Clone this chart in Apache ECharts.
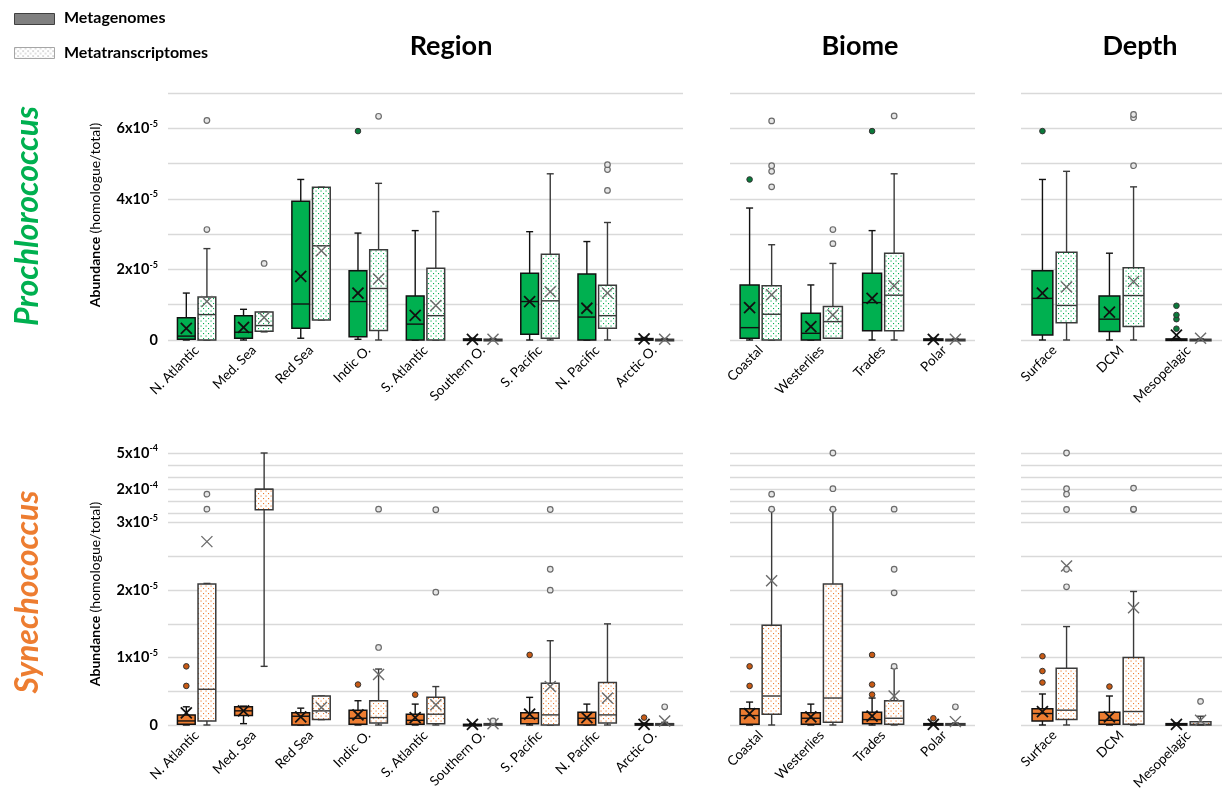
<!DOCTYPE html>
<html><head><meta charset="utf-8">
<script src="https://cdn.jsdelivr.net/npm/echarts@6/dist/echarts.min.js"></script>
<style>html,body{margin:0;padding:0;background:#fff}#c{width:1225px;height:802px}</style>
</head><body><div id="c"></div>
<script>
// ---------- categories ----------
const regionCats = ['N. Atlantic','Med. Sea','Red Sea','Indic O.','S. Atlantic','Southern O.','S. Pacific','N. Pacific','Arctic O.'];
const biomeCats = ['Coastal','Westerlies','Trades','Polar'];
const depthCats = ['Surface','DCM','Mesopelagic'];

// All values in units of 1e-5 (homologue/total). Box = [min, Q1, median, Q3, max, mean]
// ---------- Prochlorococcus ----------
const proRegionGen = [[0,0.02,0.11,0.63,1.33,0.33],[0,0.05,0.22,0.69,0.87,0.36],[0.05,0.33,1.02,3.93,4.55,1.8],[0.02,0.09,1.09,1.96,3.03,1.33],[0,0,0.45,1.25,3.1,0.7],[0,0,0.01,0.03,0.05,0.02],[0,0.16,1.09,1.89,3.07,1.09],[0,0,0.65,1.87,2.79,0.9],[0,0,0.01,0.04,0.07,0.03]];
const proRegionGenOut = [[],[],[],[5.92],[],[],[],[],[]];
const proRegionTra = [[0,0,0.72,1.22,2.59,1.09],[0.23,0.25,0.41,0.79,0.79,0.64],[0.57,0.57,2.67,4.33,4.33,2.53],[0,0.27,1.46,2.56,4.44,1.73],[0,0,0.69,2.03,3.64,0.98],[0,0,0.01,0.02,0.04,0.02],[0,0.05,1.11,2.43,4.71,1.37],[0,0.33,0.69,1.55,3.33,1.33],[0,0,0.01,0.02,0.04,0.02]];
const proRegionTraOut = [[3.13,6.22],[2.17],[],[6.34],[],[],[],[4.24,4.83,4.97],[]];
const proBiomeGen = [[0,0.05,0.35,1.56,3.74,0.92],[0,0,0.19,0.76,1.56,0.38],[0,0.26,1.06,1.89,3.1,1.18],[0,0,0.01,0.03,0.05,0.02]];
const proBiomeGenOut = [[4.55],[],[5.92],[]];
const proBiomeTra = [[0,0,0.73,1.54,2.7,1.28],[0.05,0.05,0.52,0.95,2.17,0.71],[0,0.26,1.27,2.46,4.71,1.54],[0,0,0.01,0.02,0.03,0.02]];
const proBiomeTraOut = [[4.34,4.78,4.94,6.21],[2.73,3.13],[6.35],[]];
const proDepthGen = [[0,0.14,1.18,1.96,4.55,1.33],[0,0.24,0.59,1.25,2.46,0.79],[0,0,0.01,0.03,0.05,0.14]];
const proDepthGenOut = [[5.92],[],[0.32,0.59,0.71,0.97]];
const proDepthTra = [[0,0.49,0.98,2.49,4.78,1.5],[0,0.38,1.26,2.05,4.34,1.66],[0,0,0.01,0.02,0.03,0.05]];
const proDepthTraOut = [[],[4.94,6.30,6.39],[]];

// ---------- Synechococcus ----------
const synRegionGen = [[0,0.01,0.06,0.15,0.27,0.18],[0.02,0.14,0.21,0.27,0.28,0.21],[0,0,0.13,0.18,0.25,0.12],[0,0.01,0.1,0.22,0.36,0.15],[0,0.01,0.07,0.16,0.31,0.11],[0,0,0.005,0.01,0.02,0.01],[0,0.02,0.1,0.18,0.41,0.16],[0,0,0.1,0.19,0.31,0.11],[0,0,0.01,0.02,0.03,0.01]];
const synRegionGenOut = [[0.58,0.87],[],[],[0.6],[0.45],[],[1.04],[],[0.11]];
const synRegionTra = [[0,0.06,0.53,2.09,2.1,2.72],[0.87,3.2,20,20,50,null],[0.08,0.08,0.21,0.43,0.43,0.26],[0,0.03,0.11,0.36,0.83,0.75],[0,0.02,0.16,0.41,0.57,0.3],[0,0,0.01,0.02,0.03,0.02],[0,0,0.15,0.62,1.25,0.57],[0,0.03,0.15,0.63,1.5,0.4],[0,0,0.01,0.02,0.04,0.06]];
const synRegionTraOut = [[3.6,16],[],[],[1.15,3.6],[1.97,3.1],[0.06],[2.0,2.31,3.3],[],[0.27]];
const synBiomeGen = [[0,0.01,0.14,0.24,0.34,0.17],[0,0.01,0.1,0.18,0.31,0.12],[0,0.02,0.08,0.19,0.4,0.13],[0,0,0.01,0.02,0.03,0.01]];
const synBiomeGenOut = [[0.58,0.87],[],[0.45,0.6,1.04],[0.1]];
const synBiomeTra = [[0,0.16,0.43,1.48,3.05,2.14],[0,0.04,0.4,2.09,3.05,null],[0,0.01,0.1,0.36,0.84,0.43],[0,0,0.01,0.02,0.03,0.05]];
const synBiomeTraOut = [[3.5,16],[3.5,20.5,50],[0.87,1.96,2.31,3.6],[0.27]];
const synDepthGen = [[0,0.06,0.17,0.24,0.46,0.2],[0,0.01,0.07,0.19,0.43,0.12],[0,0,0.01,0.02,0.03,0.01]];
const synDepthGenOut = [[0.63,0.8,1.02],[0.57],[]];
const synDepthTra = [[0,0.08,0.22,0.84,1.46,2.36],[0,0.01,0.2,1.0,1.98,1.74],[0,0,0.01,0.05,0.13,0.07]];
const synDepthTraOut = [[2.05,2.31,3.3,16,20.5,50],[3.3,3.6,21],[0.35]];

// ---------- tick values (units of 1e-5) ----------
const proGridVals = [0,1,2,3,4,5,6,7];
const proLabelVals = [0,2,4,6];
const synLowerGridVals = [0,0.5,1,1.5,2,2.5,3];
const synUpperGridVals = [0,10,20,30,40,50];
const synLowerLabelVals = [0,1,2,3];
const synUpperLabelVals = [20,50];

// ---------- broken axis mapping for Synechococcus ----------
const LIN_MAX = 3, UB = 3.137, US = 0.1795;
const lowerPos = v => v;
const upperPos = v => UB + v / 10 * US;
const synPos = v => (v == null ? null : (v <= LIN_MAX ? lowerPos(v) : upperPos(v)));
const SYN_MAX = upperPos(50);

const GREEN = '#00B050', ORANGE = '#ED7D31';
const FONT = 'Lato';

function sciText(v) { // v in 1e-5 units
  if (v === 0) return '{n|0}';
  const real = v * 1e-5;
  const e = Math.floor(Math.log10(real) + 1e-9);
  const m = Math.round(real / Math.pow(10, e));
  return '{n|' + m + 'x10}{s|' + e + '}';
}
const rich = { n: {fontFamily: FONT, fontWeight: 'bold', fontSize: 14.5, color: '#000'}, s: {fontFamily: FONT, fontWeight: 'bold', fontSize: 9, color: '#000', verticalAlign: 'top', padding: [0,0,9,0]} };

function dotPattern(color, bg) {
  const c = document.createElement('canvas');
  c.width = 5; c.height = 5;
  const g = c.getContext('2d');
  g.fillStyle = bg; g.fillRect(0,0,5,5);
  g.fillStyle = color;
  g.fillRect(0.5,0.5,1.1,1.1);
  g.fillRect(3,3,1.1,1.1);
  return {image: c, repeat: 'repeat'};
}
const patGreen = dotPattern(GREEN, '#fff');
const patOrange = dotPattern(ORANGE, '#fff');
const patGray = dotPattern('#9a9a9a', '#fff');

function boxRender(side, fill, isTra) {
  return function (params, api) {
    const cat = api.value(0);
    const bw = api.size([1, 0])[0];
    const cx = api.coord([cat, 0])[0] + side * 0.18 * bw;
    const hw = 0.155 * bw;
    const yy = i => api.coord([cat, api.value(i)])[1];
    const yMin = yy(1), yQ1 = yy(2), yMed = yy(3), yQ3 = yy(4), yMax = yy(5);
    const stroke = isTra ? '#3a3a3a' : '#111';
    const ch = [];
    const ln = (x1,y1,x2,y2,st,w) => ch.push({type:'line', shape:{x1,y1,x2,y2}, style:{stroke: st || stroke, lineWidth: w || 1.4}});
    ln(cx, yQ3, cx, yMax); ln(cx, yQ1, cx, yMin);
    ln(cx-3.5, yMax, cx+3.5, yMax); ln(cx-3.5, yMin, cx+3.5, yMin);
    ch.push({type:'rect', shape:{x: cx-hw, y: yQ3, width: 2*hw, height: Math.max(yQ1-yQ3, 1.5)}, style:{fill: fill, stroke: stroke, lineWidth: 1.5}});
    ln(cx-hw, yMed, cx+hw, yMed, stroke, 1.4);
    const mv = api.value(6);
    if (!isNaN(mv)) {
      const my = api.coord([cat, mv])[1], s = 5.5;
      const mc = isTra ? '#6b6b6b' : '#111', mw = isTra ? 1.4 : 1.8;
      ln(cx-s, my-s, cx+s, my+s, mc, mw); ln(cx-s, my+s, cx+s, my-s, mc, mw);
    }
    return {type:'group', children: ch};
  };
}
function outRender(side, isTra, color) {
  return function (params, api) {
    const cat = api.value(0);
    const bw = api.size([1, 0])[0];
    const cx = api.coord([cat, 0])[0] + side * 0.18 * bw;
    const y = api.coord([cat, api.value(1)])[1];
    return {type:'circle', shape:{cx, cy: y, r: 2.8}, style: isTra ? {fill:'#e6e6e6', stroke:'#6b6b6b', lineWidth:1.2} : {fill: color, stroke:'#333', lineWidth:1}};
  };
}

const grids = [], xAxes = [], yAxes = [], series = [];
const panels = [
  {cats: regionCats, left: 168, width: 515},
  {cats: biomeCats, left: 730, width: 245},
  {cats: depthCats, left: 1021, width: 201}
];
const rows = [
  {top: 93, height: 247, color: GREEN, pat: patGreen, map: v => v, sets: [[proRegionGen,proRegionGenOut,proRegionTra,proRegionTraOut],[proBiomeGen,proBiomeGenOut,proBiomeTra,proBiomeTraOut],[proDepthGen,proDepthGenOut,proDepthTra,proDepthTraOut]]},
  {top: 453, height: 272, color: ORANGE, pat: patOrange, map: synPos, sets: [[synRegionGen,synRegionGenOut,synRegionTra,synRegionTraOut],[synBiomeGen,synBiomeGenOut,synBiomeTra,synBiomeTraOut],[synDepthGen,synDepthGenOut,synDepthTra,synDepthTraOut]]}
];

rows.forEach((row, r) => {
  panels.forEach((p, k) => {
    const idx = grids.length;
    grids.push({left: p.left, width: p.width, top: row.top, height: row.height});
    xAxes.push({type:'category', gridIndex: idx, data: p.cats, axisLine:{show:false}, axisTick:{show:false},
      axisLabel:{interval:0, rotate:45, margin:8, fontFamily: FONT, fontSize: 13.5, color:'#000'}});
    let y;
    if (r === 0) {
      y = {type:'value', gridIndex: idx, min: 0, max: 7,
        axisTick:{show:false, customValues: proGridVals},
        axisLabel:{show: k === 0, customValues: proLabelVals, margin: 10, formatter: v => sciText(v), rich}};
    } else {
      const labelPos = synLowerLabelVals.map(v => ({p: lowerPos(v), v})).concat(synUpperLabelVals.map(v => ({p: upperPos(v), v})));
      y = {type:'value', gridIndex: idx, min: 0, max: SYN_MAX,
        axisTick:{show:false, customValues: synLowerGridVals.map(lowerPos).concat(synUpperGridVals.map(upperPos))},
        axisLabel:{show: k === 0, customValues: labelPos.map(o => o.p), margin: 10,
          formatter: val => { let best = labelPos[0]; labelPos.forEach(o => { if (Math.abs(o.p - val) < Math.abs(best.p - val)) best = o; }); return sciText(best.v); }, rich}};
    }
    y.axisLine = {show:false};
    y.splitLine = {show:true, lineStyle:{color:'#d9d9d9', width:1.3}};
    yAxes.push(y);
    const [gen, genOut, tra, traOut] = row.sets[k];
    const boxData = arr => arr.map((b, i) => [i].concat(b.map(row.map)));
    const outData = arr => { const o = []; arr.forEach((list, i) => list.forEach(v => o.push([i, row.map(v)]))); return o; };
    series.push({type:'custom', xAxisIndex: idx, yAxisIndex: idx, renderItem: boxRender(-1, row.color, false), data: boxData(gen), encode:{x:0, y:[1,2,3,4,5]}, clip:false, z: 3});
    series.push({type:'custom', xAxisIndex: idx, yAxisIndex: idx, renderItem: boxRender(1, row.pat, true), data: boxData(tra), encode:{x:0, y:[1,2,3,4,5]}, clip:false, z: 3});
    series.push({type:'custom', xAxisIndex: idx, yAxisIndex: idx, renderItem: outRender(-1, false, r === 0 ? '#0a7a3a' : '#c85a14'), data: outData(genOut), encode:{x:0, y:1}, clip:false, z: 4});
    series.push({type:'custom', xAxisIndex: idx, yAxisIndex: idx, renderItem: outRender(1, true), data: outData(traOut), encode:{x:0, y:1}, clip:false, z: 4});
  });
});

const chart = echarts.init(document.getElementById('c'), null, {renderer: 'canvas'});
chart.setOption({
  animation: false,
  grid: grids, xAxis: xAxes, yAxis: yAxes, series: series,
  graphic: [
    {type:'rect', left: 14, top: 13, shape:{width: 40, height: 11}, style:{fill:'#808080', stroke:'#404040', lineWidth: 1}},
    {type:'rect', left: 14, top: 47, shape:{width: 40, height: 11}, style:{fill: patGray, stroke:'#a6a6a6', lineWidth: 1}},
    {type:'text', x: 64, y: 18, style:{text:'Metagenomes', fontFamily: FONT, fontWeight:'bold', fontSize: 16, fill:'#000', verticalAlign:'middle'}},
    {type:'text', x: 64, y: 53, style:{text:'Metatranscriptomes', fontFamily: FONT, fontWeight:'bold', fontSize: 16, fill:'#000', verticalAlign:'middle'}},
    {type:'text', x: 451, y: 46, style:{text:'Region', fontFamily: FONT, fontWeight:'bold', fontSize: 27, fill:'#000', align:'center', verticalAlign:'middle'}},
    {type:'text', x: 860, y: 46, style:{text:'Biome', fontFamily: FONT, fontWeight:'bold', fontSize: 27, fill:'#000', align:'center', verticalAlign:'middle'}},
    {type:'text', x: 1140, y: 46, style:{text:'Depth', fontFamily: FONT, fontWeight:'bold', fontSize: 27, fill:'#000', align:'center', verticalAlign:'middle'}},
    {type:'text', x: 28, y: 216, rotation: Math.PI/2, style:{text:'Prochlorococcus', fontFamily: FONT, fontWeight:'bold', fontStyle:'italic', fontSize: 32, fill: GREEN, align:'center', verticalAlign:'middle'}},
    {type:'text', x: 28, y: 592, rotation: Math.PI/2, style:{text:'Synechococcus', fontFamily: FONT, fontWeight:'bold', fontStyle:'italic', fontSize: 32, fill: ORANGE, align:'center', verticalAlign:'middle'}},
    {type:'text', x: 95, y: 215, rotation: Math.PI/2, style:{text:'{b|Abundance} {r|(homologue/total)}', align:'center', verticalAlign:'middle', rich:{b:{fontFamily: FONT, fontWeight:'bold', fontSize: 14, fill:'#000'}, r:{fontFamily: FONT, fontSize: 14, fill:'#000'}}}},
    {type:'text', x: 95, y: 594, rotation: Math.PI/2, style:{text:'{b|Abundance} {r|(homologue/total)}', align:'center', verticalAlign:'middle', rich:{b:{fontFamily: FONT, fontWeight:'bold', fontSize: 14, fill:'#000'}, r:{fontFamily: FONT, fontSize: 14, fill:'#000'}}}}
  ]
});
</script>
</body></html>
